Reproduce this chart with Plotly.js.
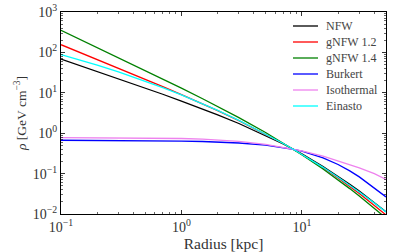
<!DOCTYPE html>
<html><head><meta charset="utf-8">
<script src="https://cdn.plot.ly/plotly-3.0.1.min.js"></script>
<style>html,body{margin:0;padding:0;background:#fff}#c{width:407px;height:252px}</style>
</head><body><div id="c"></div>
<script>
// Radius samples [kpc]
const radius = [0.1, 0.15, 0.2, 0.3, 0.5, 0.7, 1, 1.5, 2, 3, 5, 7, 8.5, 10, 15, 20, 25, 30, 40, 50];
// Density [GeV cm^-3]
const nfw      = [68.4, 45.4, 33.8, 22.3, 13.1, 9.21, 6.26, 3.98, 2.85, 1.74, 0.884, 0.541, 0.40, 0.307, 0.150, 0.0863, 0.0546, 0.0368, 0.0192, 0.0113];
const gnfw12   = [155, 94.9, 66.9, 40.7, 21.7, 14.2, 9.04, 5.33, 3.62, 2.05, 0.957, 0.557, 0.40, 0.300, 0.140, 0.0778, 0.0482, 0.0320, 0.0163, 0.00947];
const gnfw14   = [351, 198, 132, 74.3, 35.8, 22.0, 13.1, 7.12, 4.59, 2.42, 1.04, 0.572, 0.40, 0.294, 0.130, 0.0702, 0.0425, 0.0278, 0.0139, 0.00795];
const burkert  = [0.670, 0.668, 0.666, 0.663, 0.656, 0.649, 0.639, 0.623, 0.606, 0.572, 0.507, 0.444, 0.40, 0.359, 0.246, 0.168, 0.117, 0.0828, 0.0449, 0.0265];
const isotherm = [0.775, 0.774, 0.772, 0.770, 0.765, 0.755, 0.740, 0.710, 0.680, 0.630, 0.530, 0.450, 0.405, 0.365, 0.270, 0.205, 0.165, 0.138, 0.100, 0.072];
const einasto  = [87.9, 62.5, 48.3, 32.9, 19.5, 13.5, 8.90, 5.37, 3.68, 2.08, 0.962, 0.557, 0.40, 0.301, 0.143, 0.0814, 0.0516, 0.0351, 0.0187, 0.0112];

const seriesNames = ['NFW', 'gNFW 1.2', 'gNFW 1.4', 'Burkert', 'Isothermal', 'Einasto'];
const seriesData = [nfw, gnfw12, gnfw14, burkert, isotherm, einasto];
const seriesColors = ['#000000', '#ff0000', '#008000', '#0000ff', '#ee82ee', '#00ffff'];

const xTickVals = [0.1, 1, 10];
const xTickText = ['10<sup>−1</sup>', '10<sup>0</sup>', '10<sup>1</sup>'];
const yTickVals = [0.01, 0.1, 1, 10, 100, 1000];
const yTickText = ['10<sup>−2</sup>', '10<sup>−1</sup>', '10<sup>0</sup>', '10<sup>1</sup>', '10<sup>2</sup>', '10<sup>3</sup>'];

function minorVals(lo, hi) {
  const v = [];
  for (let e = lo; e < hi; e++) for (let k = 2; k <= 9; k++) v.push(k * Math.pow(10, e));
  return v;
}

const traces = seriesNames.map((n, i) => ({
  x: radius, y: seriesData[i], name: n, type: 'scatter', mode: 'lines',
  line: {color: seriesColors[i], width: 1.3}, showlegend: false
}));

const font = {family: 'Liberation Serif, DejaVu Serif, serif', color: '#333'};

// Legend drawn as shapes + annotations (matplotlib-style compact legend)
const W = 407, H = 252, mL = 61, mR = 21, mT = 12, mB = 38;
const plotW = W - mL - mR, plotH = H - mT - mB;
const px2x = p => (p - mL) / plotW;
const py2y = p => (H - mB - p) / plotH;
const legShapes = [], legAnns = [];
seriesNames.forEach((n, i) => {
  const yy = py2y(26 + 16 * i);
  legShapes.push({type: 'line', xref: 'paper', yref: 'paper', x0: px2x(293), x1: px2x(318), y0: yy, y1: yy,
                  line: {color: seriesColors[i], width: 1.3}});
  legAnns.push({xref: 'paper', yref: 'paper', x: px2x(324), y: yy, xanchor: 'left', yanchor: 'middle',
                text: n, showarrow: false, font: Object.assign({size: 12}, font, {color: '#444'})});
});

const axisCommon = {
  type: 'log', showgrid: false, zeroline: false,
  showline: true, linecolor: '#000', linewidth: 1, mirror: 'allticks',
  ticks: 'inside', ticklen: 4, tickwidth: 0.8, tickcolor: '#000',
  tickmode: 'array', tickfont: Object.assign({size: 14}, font)
};

const layout = {
  width: W, height: H,
  margin: {l: mL, r: mR, t: mT, b: mB},
  paper_bgcolor: '#fff', plot_bgcolor: '#fff',
  showlegend: false,
  shapes: legShapes,
  annotations: legAnns,
  xaxis: Object.assign({}, axisCommon, {
    range: [-1, Math.log10(50)], tickvals: xTickVals, ticktext: xTickText,
    minor: {tickmode: 'array', tickvals: minorVals(-1, 2), ticks: 'inside', ticklen: 2, tickwidth: 0.6, tickcolor: '#000', showgrid: false},
    title: {text: 'Radius [kpc]', font: Object.assign({size: 15.5}, font), standoff: 0}
  }),
  yaxis: Object.assign({}, axisCommon, {
    range: [-2, 3], tickvals: yTickVals, ticktext: yTickText,
    minor: {tickmode: 'array', tickvals: minorVals(-2, 3), ticks: 'inside', ticklen: 2, tickwidth: 0.6, tickcolor: '#000', showgrid: false},
    title: {text: '<i>ρ</i> [GeV cm<sup>−3</sup>]', font: Object.assign({size: 13.5}, font), standoff: 3}
  })
};

Plotly.newPlot('c', traces, layout, {staticPlot: true, displayModeBar: false});
</script>
</body></html>
